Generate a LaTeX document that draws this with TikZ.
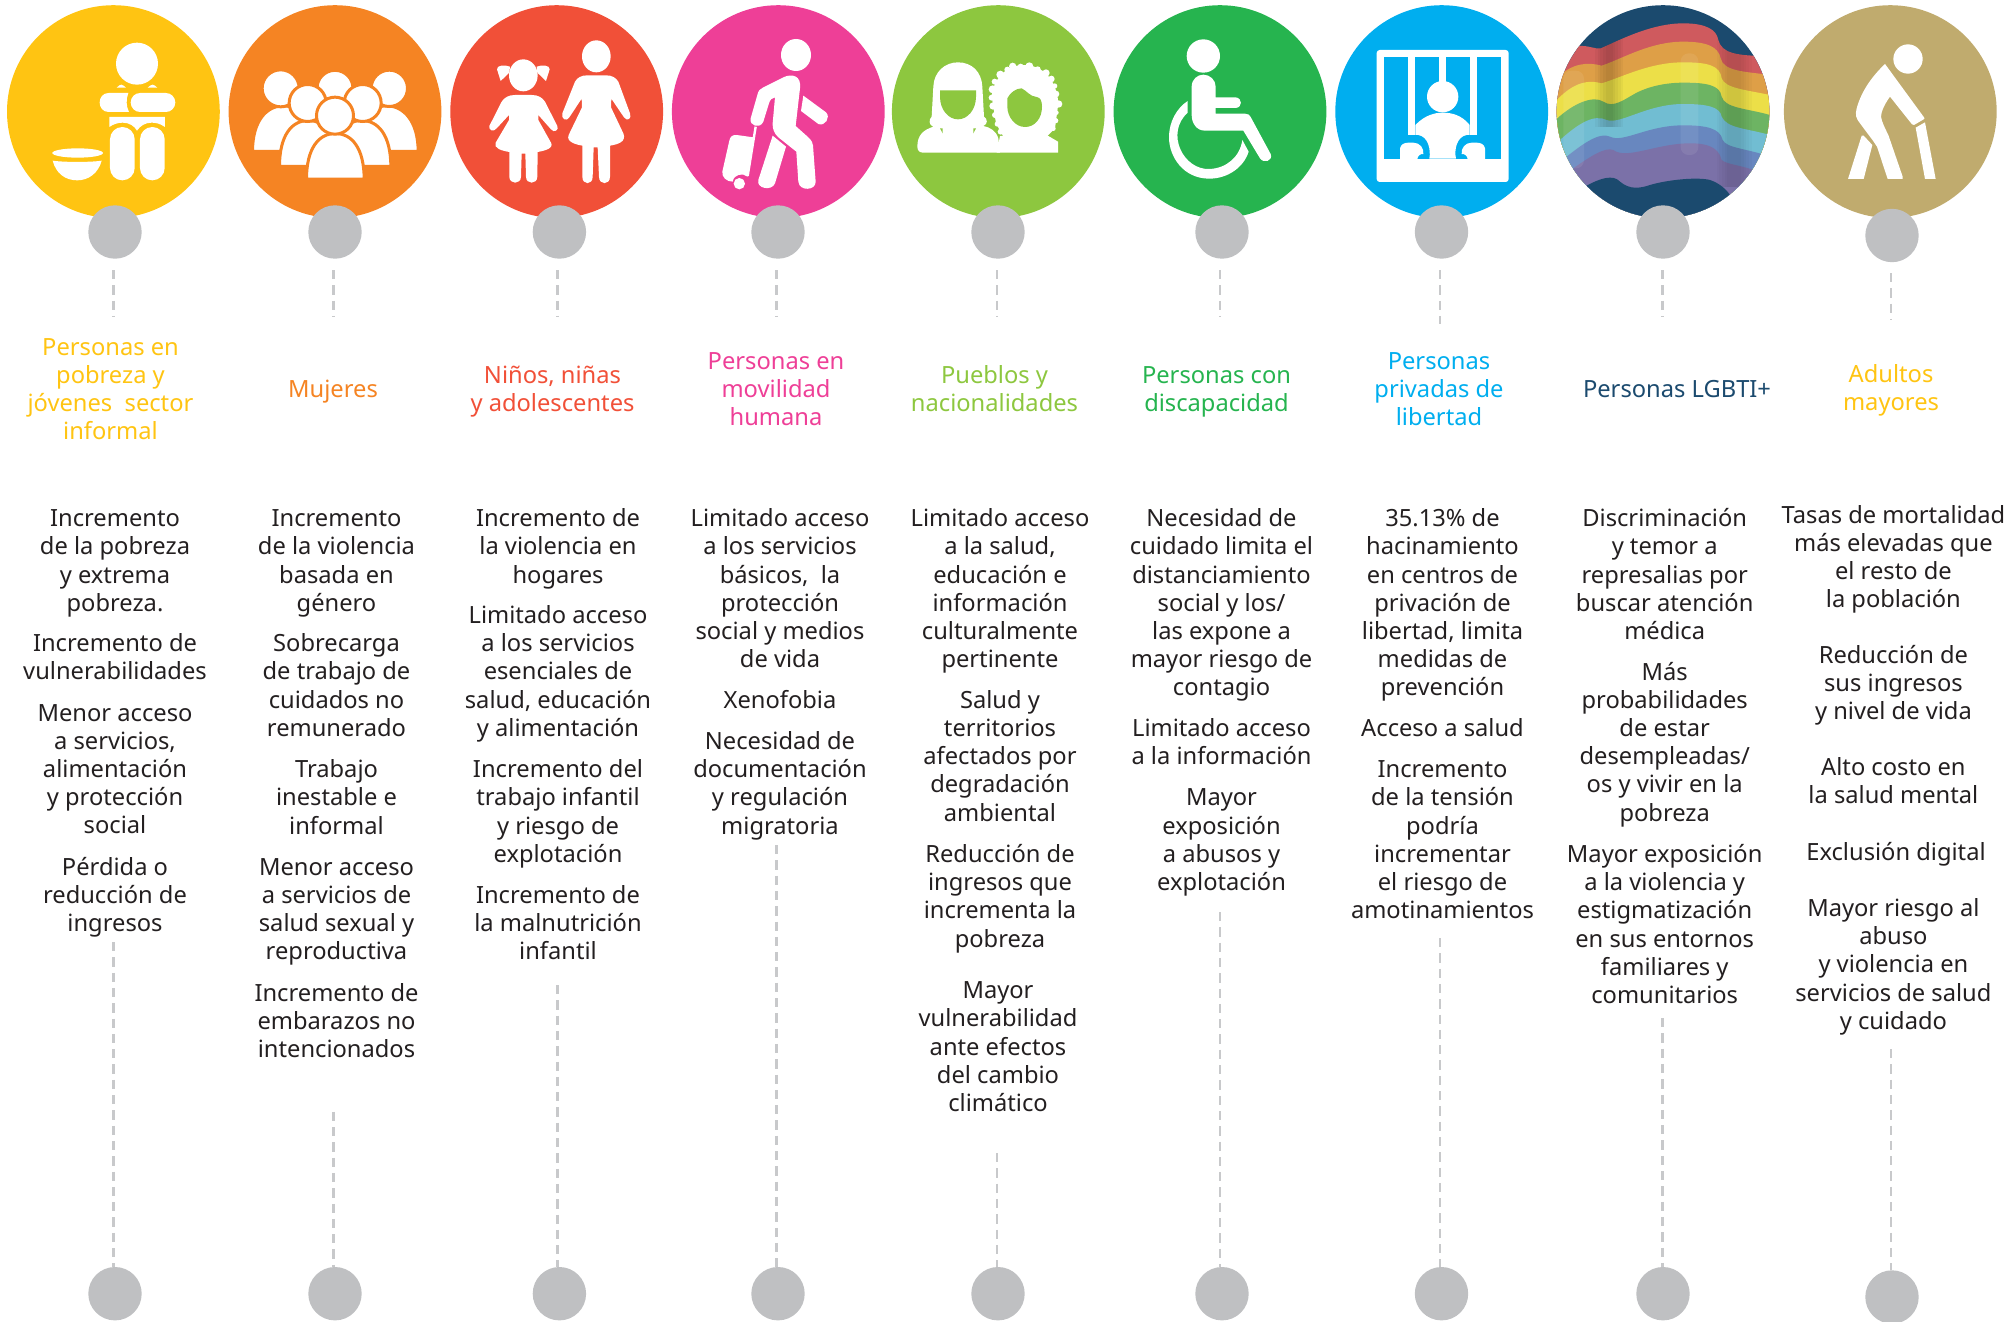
\documentclass[tikz,border=0pt]{standalone}
\usepackage{fontspec}
\setmainfont{Noto Sans}
\definecolor{cyel}{HTML}{FFC412}
\definecolor{cora}{HTML}{F58423}
\definecolor{cred}{HTML}{F15038}
\definecolor{cpnk}{HTML}{EE3F97}
\definecolor{clim}{HTML}{8DC73F}
\definecolor{cgrn}{HTML}{26B44F}
\definecolor{cblu}{HTML}{00AEEF}
\definecolor{cnav}{HTML}{1B4A6E}
\definecolor{cgld}{HTML}{C0AB6E}
\definecolor{cgry}{HTML}{BFC0C2}
\definecolor{cdsh}{HTML}{C8C9CB}
\definecolor{ctxt}{HTML}{231F20}
\definecolor{rb1}{HTML}{CF5A5E}
\definecolor{rb2}{HTML}{DE9F47}
\definecolor{rb3}{HTML}{ECDF48}
\definecolor{rb4}{HTML}{6DB463}
\definecolor{rb5}{HTML}{71BDD2}
\definecolor{rb6}{HTML}{6887BF}
\definecolor{rb7}{HTML}{7B71A8}
\tikzset{
  zm/.style={shift={(#1,0)},x=0.33333pt,y=-0.33333pt},
  disc/.style={circle,inner sep=0pt,minimum size=212.8pt,fill=#1},
  knob/.style={circle,inner sep=0pt,minimum size=53.4pt,fill=cgry},
  dashline/.style={draw=cdsh,line width=2.8pt,dash pattern=on 9.3pt off 6pt},
  bodytext/.style={inner sep=0pt,anchor=north,align=center,text=ctxt,font=\fontsize{23.7}{28.2}\selectfont},
  headtext/.style={inner sep=0pt,anchor=north,align=center,text=#1,font=\fontsize{23.7}{28.2}\selectfont},
  crowd/.style={fill=white,draw=cora,line width=3pt},
  icon/.style={fill=white},
}
\newcommand{\fs}{\rule{0pt}{20pt}}
\newcommand{\crowdperson}[8]{%
  \path[crowd] ({#4-4.5},{#8+4.5}) .. controls ({#4-4.5},{#7+40}) and ({#5-50},{#7-4.5}) .. (#5,{#7-4.5}) .. controls ({#5+50},{#7-4.5}) and ({#6+4.5},{#7+40}) .. ({#6+4.5},{#8+4.5}) -- cycle;
  \path[crowd] (#1,#2) circle[radius={#3+4.5}];
}
\begin{document}
\begin{tikzpicture}[x=1pt,y=-1pt]
\useasboundingbox (0,0) rectangle (2014,1322);
% discs
\node[disc=cyel] (d1) at (113.4,111.6) {};
\node[disc=cora] (d2) at (335,111.6) {};
\node[disc=cred] (d3) at (556.7,111.6) {};
\node[disc=cpnk] (d4) at (778.3,111.6) {};
\node[disc=clim] (d5) at (998.3,111.6) {};
\node[disc=cgrn] (d6) at (1220,111.6) {};
\node[disc=cblu] (d7) at (1441.7,111.6) {};
\node[disc=cnav] (d8) at (1663,111.6) {};
\node[disc=cgld] (d9) at (1890.3,111.6) {};

% icon 1
\begin{scope}[zm=0]
\fill[icon] (411,191) circle[radius=63];
\fill[icon] (350,263) .. controls (356,257) and (360,254) .. (364,254) .. controls (368,254) and (372,258) .. (378,263) -- cycle;
\fill[icon] (443,263) .. controls (449,258) and (453,254) .. (458,254) .. controls (462,254) and (466,258) .. (472,263) -- cycle;
\fill[icon] (385,279) -- (326,279) .. controls (290,279) and (290,336) .. (326,336) -- (387,336) .. controls (378,318) and (378,298) .. (385,279) -- cycle;
\fill[icon,rounded corners=9.5pt] (392,279) rectangle (526,336);
\fill[icon] (328,351) -- (495,351) -- (495,381) .. controls (480,370) and (465,368) .. (455,368) .. controls (435,368) and (420,378) .. (411,392) .. controls (403,378) and (388,368) .. (368,368) .. controls (355,368) and (340,372) .. (328,381) -- cycle;
\fill[icon,rounded corners=12.3pt] (330,381) rectangle (404,541);
\fill[icon,rounded corners=12.3pt] (420,381) rectangle (494,541);
\fill[icon] (233,459) ellipse[x radius=76,y radius=14];
\fill[icon] (158,482) .. controls (190,487) and (275,487) .. (305,482) .. controls (295,520) and (265,541) .. (232,541) .. controls (195,541) and (168,520) .. (158,482) -- cycle;
\end{scope}

% icon 2
\begin{scope}[zm=0]
\crowdperson{842}{265}{51}{762}{850}{938}{322}{450}
\crowdperson{1168}{265}{50}{1072}{1160}{1250}{322}{450}
\path[crowd] (1005,265) circle[radius=54];
\crowdperson{923}{309}{51}{843}{925}{1007}{366}{495}
\crowdperson{1088}{309}{51}{1003}{1085}{1168}{366}{495}
\crowdperson{1005}{347}{51}{924}{1006}{1088}{405}{533}
\end{scope}

% icon 3
\begin{scope}[zm=450]
\fill[icon] (220,226) ellipse[x radius=43,y radius=48];
\fill[icon] (180,200) .. controls (165,194) and (140,195) .. (141,208) -- (152,243) -- (178,218) -- cycle;
\fill[icon] (260,200) .. controls (275,194) and (300,195) .. (299,208) -- (288,243) -- (262,218) -- cycle;
\fill[icon] (220,285) -- (195,285) .. controls (175,285) and (163,293) .. (155,305) -- (118,378) .. controls (115,390) and (130,398) .. (140,385) -- (177,345) -- (177,360) -- (137,428) .. controls (130,445) and (155,452) .. (178,456) -- (178,530) .. controls (178,554) and (213,554) .. (213,530) -- (215,461) -- (226,461) -- (228,530) .. controls (228,554) and (262,554) .. (262,530) -- (263,456) .. controls (285,452) and (312,445) .. (303,428) -- (265,360) -- (265,345) -- (303,388) .. controls (312,400) and (328,390) .. (322,378) -- (285,305) .. controls (277,293) and (265,285) .. (245,285) -- cycle;
\fill[icon] (439,169) ellipse[x radius=43,y radius=48];
\fill[icon] (439,226) -- (412,226) .. controls (395,226) and (382,232) .. (375,245) -- (337,340) .. controls (333,358) and (350,366) .. (358,352) -- (395,296) -- (396,322) -- (356,405) .. controls (348,425) and (375,433) .. (397,437) -- (397,530) .. controls (397,556) and (428,556) .. (428,530) -- (431,442) -- (443,442) -- (447,530) .. controls (447,556) and (480,556) .. (480,530) -- (480,437) .. controls (505,433) and (530,425) .. (520,400) -- (483,322) -- (484,296) -- (522,352) .. controls (532,366) and (546,356) .. (540,340) -- (505,245) .. controls (497,232) and (485,226) .. (468,226) -- cycle;
\end{scope}

% icon 4
\begin{scope}[zm=450]
\fill[icon] (1038,165) ellipse[x radius=45,y radius=48];
\fill[icon] (1000,232) .. controls (1025,220) and (1055,226) .. (1050,265) -- (1037,378) -- (1075,412) .. controls (1085,422) and (1088,428) .. (1089,436) -- (1097,545) .. controls (1098,572) and (1048,575) .. (1045,545) -- (1039,455) -- (985,412) .. controls (972,400) and (967,385) .. (968,370) -- (975,292) .. controls (965,293) and (960,300) .. (957,310) -- (940,365) .. controls (930,388) and (897,378) .. (902,355) -- (922,285) .. controls (925,272) and (930,266) .. (940,262) -- cycle;
\fill[icon] (1060,287) -- (1128,337) .. controls (1143,352) and (1125,380) .. (1105,372) -- (1053,333) -- cycle;
\fill[icon] (968,407) -- (1008,440) -- (975,550) .. controls (965,575) and (918,565) .. (925,540) -- cycle;
\fill[icon] (860,405) .. controls (845,404) and (840,412) .. (838,422) -- (817,515) .. controls (815,532) and (830,545) .. (848,545) .. controls (852,522) and (878,518) .. (893,530) -- (910,412) -- cycle;
\draw[white,line width=2.4pt] (917,380) -- (893,528);
\fill[icon] (868,551) circle[radius=17];
\end{scope}

% icon 5
\begin{scope}[zm=890]
\fill[icon] (204,187) .. controls (165,187) and (132,215) .. (130,260) -- (125,350) .. controls (116,358) and (116,376) .. (130,380) .. controls (100,390) and (82,405) .. (82,440) .. controls (82,453) and (90,458) .. (100,458) -- (330,458) -- (325,415) .. controls (318,392) and (300,382) .. (280,378) .. controls (295,372) and (292,356) .. (282,350) -- (277,260) .. controls (275,215) and (245,187) .. (204,187) -- cycle;
\fill[clim] (150,271) -- (258,271) -- (258,290) .. controls (258,330) and (232,358) .. (204,358) .. controls (176,358) and (150,330) .. (150,290) -- cycle;
\fill[clim] (150,385) -- (158,385) -- (158,400) -- cycle;
\fill[clim] (250,385) -- (258,385) -- (250,400) -- cycle;
% curly hair
\fill[icon] (400,195) .. controls (460,195) and (500,240) .. (505,310) -- (495,385) -- (470,410) -- (340,410) -- (318,370) -- (305,290) .. controls (310,235) and (350,195) .. (400,195) -- cycle;
\foreach \cx/\cy/\cr in {368/199/11,392/200/9,418/199/12,443/208/9,468/219/11,484/237/10,494/258/8,498/282/10,506/312/11,499/338/7,497/362/8,490/386/7,352/209/9,331/224/12,314/245/9,308/268/12,305/293/9,309/318/11,315/345/9,322/372/8,332/395/9}
  \fill[icon] (\cx,\cy) circle[radius=\cr];
\fill[icon] (330,408) -- (470,405) -- (504,425) -- (504,458) -- (320,458) -- cycle;
\fill[clim] (352,295) .. controls (360,278) and (378,265) .. (395,265) .. controls (410,272) and (420,290) .. (440,291) .. controls (450,293) and (456,300) .. (456,320) .. controls (456,355) and (435,381) .. (405,381) .. controls (375,381) and (352,350) .. (352,320) -- cycle;
\end{scope}

% icon 6
\begin{scope}[zm=890]
\fill[icon] (940,168) circle[radius=50];
\fill[icon] (905,260) .. controls (905,238) and (922,224) .. (940,224) .. controls (960,224) and (977,240) .. (977,260) -- (977,292) -- (1037,292) .. controls (1058,295) and (1058,322) .. (1037,324) -- (977,324) -- (977,341) -- (1065,341) .. controls (1075,341) and (1079,345) .. (1082,351) -- (1142,462) .. controls (1150,482) and (1122,492) .. (1110,475) -- (1060,392) -- (945,392) .. controls (920,392) and (905,370) .. (905,345) -- cycle;
\fill[icon] (893,303) -- (893,338) .. controls (825,400) and (880,510) .. (958,507) .. controls (1010,505) and (1050,470) .. (1057,420) -- (1076,455) .. controls (1060,505) and (1010,536) .. (958,536) .. controls (880,536) and (837,470) .. (837,412) .. controls (837,365) and (860,325) .. (893,303) -- cycle;
\end{scope}

% icon 7
\begin{scope}[zm=1330]
\fill[icon,rounded corners=3pt] (140,150) rectangle (536,546);
\fill[cblu] (162,172) rectangle (513,476);
\fill[icon] (234,172) rectangle (256,405);
\fill[icon] (326,172) rectangle (349,300);
\fill[icon] (419,172) rectangle (442,405);
\fill[icon] (338,290) circle[radius=47];
\fill[icon] (256,375) .. controls (285,345) and (315,338) .. (338,338) .. controls (365,338) and (395,345) .. (419,375) -- (419,405) -- (410,405) .. controls (380,410) and (372,450) .. (378,476) -- (298,476) .. controls (303,450) and (295,410) .. (265,405) -- (256,405) -- cycle;
\fill[icon] (210,478) -- (210,445) .. controls (212,432) and (225,428) .. (235,428) -- (250,428) .. controls (270,428) and (282,445) .. (280,462) .. controls (272,460) and (262,468) .. (262,478) -- cycle;
\fill[icon] (465,478) -- (465,445) .. controls (463,432) and (450,428) .. (440,428) -- (425,428) .. controls (405,428) and (393,445) .. (395,462) .. controls (403,460) and (413,468) .. (413,478) -- cycle;
\end{scope}

% icon 8 rainbow
\begin{scope}[zm=1330]
\clip (999,335) circle[radius=319];
\fill[rb1] (748,138) .. controls (775,136) and (795,148) .. (812,145) .. controls (860,125) and (960,70) .. (1060,70) .. controls (1130,70) and (1160,90) .. (1165,120) .. controls (1175,160) and (1220,168) .. (1320,168) -- (1320,700) -- (650,700) -- (650,138) -- cycle;
\fill[rb2] (680,235) .. controls (725,190) and (770,185) .. (815,197) .. controls (880,175) and (960,125) .. (1060,125) .. controls (1130,125) and (1165,140) .. (1172,175) .. controls (1180,215) and (1250,215) .. (1320,225) -- (1320,700) -- (650,700) -- (650,235) -- cycle;
\fill[rb3] (680,300) .. controls (720,260) and (760,235) .. (815,250) .. controls (880,230) and (960,187) .. (1060,187) .. controls (1130,187) and (1170,195) .. (1175,235) .. controls (1185,265) and (1250,270) .. (1320,285) -- (1320,700) -- (650,700) -- (650,300) -- cycle;
\fill[rb4] (680,357) .. controls (730,310) and (790,285) .. (820,305) .. controls (850,325) and (880,300) .. (920,278) .. controls (960,258) and (1010,248) .. (1060,248) .. controls (1130,248) and (1170,255) .. (1175,290) .. controls (1185,325) and (1250,325) .. (1320,345) -- (1320,700) -- (650,700) -- (650,357) -- cycle;
\fill[rb5] (690,420) .. controls (740,375) and (790,340) .. (830,360) .. controls (870,375) and (950,312) .. (1060,312) .. controls (1130,312) and (1170,320) .. (1175,350) .. controls (1190,385) and (1250,385) .. (1320,405) -- (1320,700) -- (650,700) -- (650,420) -- cycle;
\fill[rb6] (710,470) .. controls (760,430) and (810,395) .. (840,410) .. controls (880,430) and (950,376) .. (1060,376) .. controls (1130,376) and (1170,385) .. (1178,420) .. controls (1190,445) and (1250,445) .. (1320,470) -- (1320,700) -- (650,700) -- (650,470) -- cycle;
\fill[rb7] (730,505) .. controls (780,470) and (825,440) .. (850,450) .. controls (890,480) and (980,430) .. (1080,430) .. controls (1130,430) and (1165,440) .. (1175,480) .. controls (1190,495) and (1250,495) .. (1320,530) -- (1320,700) -- (650,700) -- (650,505) -- cycle;
\begin{scope}
\clip (748,138) .. controls (775,136) and (795,148) .. (812,145) .. controls (860,125) and (960,70) .. (1060,70) .. controls (1130,70) and (1160,90) .. (1165,120) .. controls (1175,160) and (1220,168) .. (1320,168) -- (1320,700) -- (650,700) -- (650,138) -- cycle;
\foreach \dx in {0,8,16,24,32}{
  \fill[black,opacity=.035] ({795+\dx},100) rectangle ({880-\dx},380);
  \fill[black,opacity=.025] ({1160+\dx},100) rectangle ({1265-\dx},560);
}
\fill[white,opacity=.08,rounded corners=8pt] (1052,160) rectangle (1105,465);
\fill[white,opacity=.08,rounded corners=8pt] (700,212) rectangle (762,505);
\end{scope}
\fill[cnav] (770,557) .. controls (810,535) and (850,522) .. (870,545) .. controls (900,570) and (930,565) .. (960,555) .. controls (1010,540) and (1100,530) .. (1140,540) .. controls (1170,550) and (1190,570) .. (1200,585) -- (1200,700) -- (700,700) -- (700,557) -- cycle;
\end{scope}

% icon 9
\begin{scope}[zm=1770]
\fill[icon] (414,177) circle[radius=44];
\fill[icon] (345,192) -- (462,352) .. controls (464,355) and (464,357) .. (461,358) -- (432,375) .. controls (429,376) and (428,375) .. (426,373) -- (360,290) .. controls (345,310) and (333,335) .. (333,350) .. controls (335,365) and (345,385) .. (355,405) -- (398,530) -- (398,537) -- (353,537) -- (321,440) .. controls (318,432) and (315,430) .. (311,425) -- (270,370) .. controls (258,355) and (255,345) .. (260,325) .. controls (275,270) and (310,225) .. (345,192) -- cycle;
\fill[icon] (275,407) .. controls (277,405) and (279,405) .. (281,407) -- (307,435) -- (281,537) -- (234,537) -- cycle;
\fill[icon] (437,383) -- (465,367) -- (497,537) -- (465,537) -- cycle;
\end{scope}

% knobs, top
\node[knob] (t1) at (115,232) {};
\node[knob] (t2) at (335,232) {};
\node[knob] (t3) at (559.4,232) {};
\node[knob] (t4) at (778,232) {};
\node[knob] (t5) at (998,232) {};
\node[knob] (t6) at (1222,232) {};
\node[knob] (t7) at (1441.5,232) {};
\node[knob] (t8) at (1663,232) {};
\node[knob] (t9) at (1892,235.5) {};
% knobs, bottom
\node[knob] (b1) at (115,1293.7) {};
\node[knob] (b2) at (335,1293.7) {};
\node[knob] (b3) at (559.4,1293.7) {};
\node[knob] (b4) at (778,1293.7) {};
\node[knob] (b5) at (998,1293.7) {};
\node[knob] (b6) at (1222,1293.7) {};
\node[knob] (b7) at (1441.5,1293.7) {};
\node[knob] (b8) at (1663,1293.7) {};
\node[knob] (b9) at (1892,1297) {};

% connector ends
\coordinate (ua1) at (113.7,270); \coordinate (ub1) at (113.7,316);
\coordinate (ua2) at (333.3,270); \coordinate (ub2) at (333.3,316);
\coordinate (ua3) at (557.7,270); \coordinate (ub3) at (557.7,316);
\coordinate (ua4) at (776.6,270); \coordinate (ub4) at (776.6,316);
\coordinate (ua5) at (997,270); \coordinate (ub5) at (997,316);
\coordinate (ua6) at (1220,270); \coordinate (ub6) at (1220,316);
\coordinate (ua7) at (1440,270); \coordinate (ub7) at (1440,324);
\coordinate (ua8) at (1662.6,270); \coordinate (ub8) at (1662.6,316);
\coordinate (ua9) at (1891,273); \coordinate (ub9) at (1891,320);
\coordinate (la1) at (113.7,942);
\coordinate (la2) at (333.3,1111.7);
\coordinate (la3) at (557.7,985);
\coordinate (la4) at (776.6,845);
\coordinate (la5) at (997,1153);
\coordinate (la6) at (1220,912);
\coordinate (la7) at (1440,938);
\coordinate (la8) at (1662.6,1018);
\coordinate (la9) at (1891,1049);
\foreach \i in {1,...,9}{
  \draw[dashline] (ua\i) -- (ub\i);
  \draw[dashline] (la\i) -- (la\i |- b\i.north);
}

% headers
\node[headtext=cyel] (h1) at (110.5,334.8) {\fs Personas en\\pobreza y\\jóvenes\ \ sector\\informal};
\node[headtext=cora] (h2) at (333,377.2) {\fs Mujeres};
\node[headtext=cred] (h3) at (552.5,363.1) {\fs Niños, niñas\\y adolescentes};
\node[headtext=cpnk] (h4) at (776,349) {\fs Personas en\\movilidad\\humana};
\node[headtext=clim] (h5) at (994.5,363.1) {\fs Pueblos y\\nacionalidades};
\node[headtext=cgrn] (h6) at (1216.5,363.1) {\fs Personas con\\discapacidad};
\node[headtext=cblu] (h7) at (1439,349) {\fs Personas\\privadas de\\libertad};
\node[headtext=cnav] (h8) at (1677,377.2) {\fs Personas LGBTI+};
\node[headtext=cyel] (h9) at (1891,361.8) {\fs Adultos\\mayores};

% column 1
\node[bodytext] (p11) at (115,506.5) {\fs Incremento\\de la pobreza\\y extrema\\pobreza.};
\node[bodytext] (p12) at (115,631.5) {\fs Incremento de\\vulnerabilidades};
\node[bodytext] (p13) at (115,700.9) {\fs Menor acceso\\a servicios,\\alimentación\\y protección\\social};
\node[bodytext] (p14) at (115,855) {\fs Pérdida o\\reducción de\\ingresos};
% column 2
\node[bodytext] (p21) at (336.5,506.5) {\fs Incremento\\de la violencia\\basada en\\género};
\node[bodytext] (p22) at (336.5,631.5) {\fs Sobrecarga\\de trabajo de\\cuidados no\\remunerado};
\node[bodytext] (p23) at (336.5,757.4) {\fs Trabajo\\inestable e\\informal};
\node[bodytext] (p24) at (336.5,855) {\fs Menor acceso\\a servicios de\\salud sexual y\\reproductiva};
\node[bodytext] (p25) at (336.5,980.9) {\fs Incremento de\\embarazos no\\intencionados};
% column 3
\node[bodytext] (p31) at (558,506.5) {\fs Incremento de\\la violencia en\\hogares};
\node[bodytext] (p32) at (558,603.3) {\fs Limitado acceso\\a los servicios\\esenciales de\\salud, educación\\y alimentación};
\node[bodytext] (p33) at (558,757.4) {\fs Incremento del\\trabajo infantil\\y riesgo de\\explotación};
\node[bodytext] (p34) at (558,883.3) {\fs Incremento de\\la malnutrición\\infantil};
% column 4
\node[bodytext] (p41) at (780,506.5) {\fs Limitado acceso\\a los servicios\\básicos,\ \ la\\protección\\social y medios\\de vida};
\node[bodytext] (p42) at (780,688) {\fs Xenofobia};
\node[bodytext] (p43) at (780,729.2) {\fs Necesidad de\\documentación\\y regulación\\migratoria};
% column 5
\node[bodytext] (p51) at (1000,506.5) {\fs Limitado acceso\\a la salud,\\educación e\\información\\culturalmente\\pertinente};
\node[bodytext] (p52) at (1000,688) {\fs Salud y\\territorios\\afectados por\\degradación\\ambiental};
\node[bodytext] (p53) at (1000,842.2) {\fs Reducción de\\ingresos que\\incrementa la\\pobreza};
\node[bodytext] (p54) at (998,978.4) {\fs Mayor\\vulnerabilidad\\ante efectos\\del cambio\\climático};
% column 6
\node[bodytext] (p61) at (1221.5,506.5) {\fs Necesidad de\\cuidado limita el\\distanciamiento\\social y los/\\las expone a\\mayor riesgo de\\contagio};
\node[bodytext] (p62) at (1221.5,716.3) {\fs Limitado acceso\\a la información};
\node[bodytext] (p63) at (1221.5,785.7) {\fs Mayor\\exposición\\a abusos y\\explotación};
% column 7
\node[bodytext] (p71) at (1442.5,506.5) {\fs 35.13\% de\\hacinamiento\\en centros de\\privación de\\libertad, limita\\medidas de\\prevención};
\node[bodytext] (p72) at (1442.5,716.3) {\fs Acceso a salud};
\node[bodytext] (p73) at (1442.5,757.4) {\fs Incremento\\de la tensión\\podría\\incrementar\\el riesgo de\\amotinamientos};
% column 8
\node[bodytext] (p81) at (1664.7,506.5) {\fs Discriminación\\y temor a\\represalias por\\buscar atención\\médica};
\node[bodytext] (p82) at (1664.7,659.8) {\fs Más\\probabilidades\\de estar\\desempleadas/\\os y vivir en la\\pobreza};
\node[bodytext] (p83) at (1664.7,842.2) {\fs Mayor exposición\\a la violencia y\\estigmatización\\en sus entornos\\familiares y\\comunitarios};
% column 9
\node[bodytext] (p91) at (1893.4,502.8) {\fs Tasas de mortalidad\\más elevadas que\\el resto de\\la población};
\node[bodytext] (p92) at (1893.4,643.1) {\fs Reducción de\\sus ingresos\\y nivel de vida};
\node[bodytext] (p93) at (1893.4,754.8) {\fs Alto costo en\\la salud mental};
\node[bodytext] (p94) at (1896,840.6) {\fs Exclusión digital};
\node[bodytext] (p95) at (1893.4,896.2) {\fs Mayor riesgo al\\abuso\\y violencia en\\servicios de salud\\y cuidado};
\end{tikzpicture}
\end{document}
